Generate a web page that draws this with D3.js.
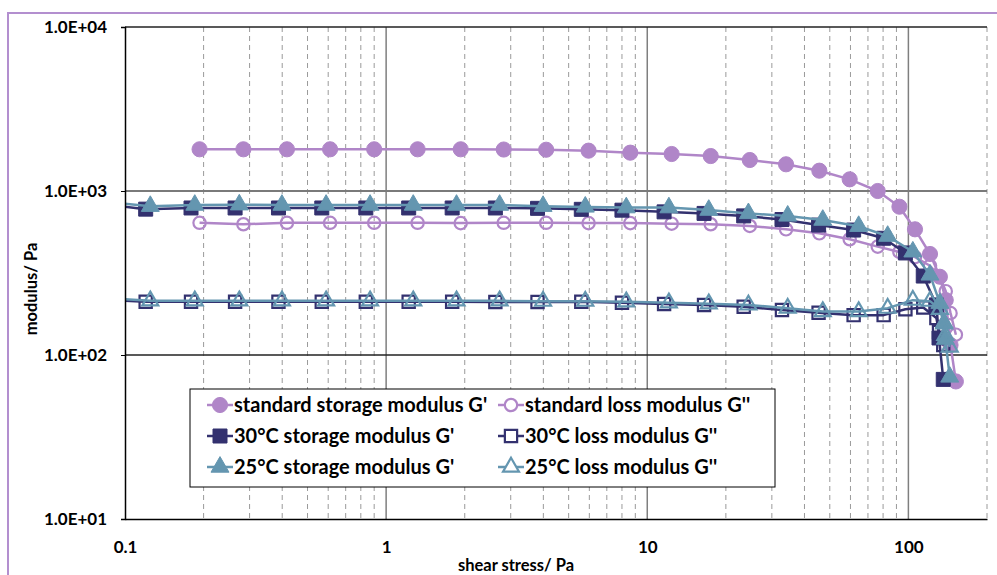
<!DOCTYPE html>
<html>
<head>
<meta charset="utf-8">
<script src="https://cdn.jsdelivr.net/npm/d3@7/dist/d3.min.js"></script>
<style>
  html, body { margin: 0; padding: 0; background: #fff; }
  svg { display: block; }
  text { font-family: Lato, "Open Sans", sans-serif; font-weight: 700; fill: #000; }
</style>
</head>
<body>
<svg id="chart" width="997" height="575"></svg>
<script>
// Standard sample
const stdStress = [0.193, 0.284, 0.417, 0.61, 0.90, 1.32, 1.93, 2.82, 4.10, 5.96, 8.61, 12.4, 17.5, 24.7, 34.0, 45.6, 59.6, 76.3, 92.4, 106, 121, 132, 139, 145, 152];
const stdStorage = [1796, 1796, 1796, 1796, 1796, 1796, 1796, 1790, 1785, 1762, 1713, 1681, 1634, 1545, 1455, 1330, 1178, 1000, 802, 584, 413, 300, 216, 115, 69];
const stdLoss = [640, 627, 640, 640, 640, 640, 637, 640, 640, 637, 637, 632, 627, 612, 584, 552, 508, 458, 425, 395, 350, 300, 245, 180, 133];

// 30 °C sample
const t30Stress = [0.082, 0.120, 0.179, 0.264, 0.387, 0.567, 0.836, 1.22, 1.79, 2.62, 3.80, 5.59, 8.00, 11.6, 16.5, 23.4, 32.8, 45.3, 61.7, 80.4, 97.4, 114, 128, 131, 136];
const t30Storage = [830, 775, 788, 788, 788, 788, 788, 788, 788, 788, 784, 773, 764, 746, 730, 705, 670, 620, 578, 515, 419, 303, 202, 127, 71];
const t30Loss = [218, 211, 211, 211, 211, 211, 211, 211, 211, 210.6, 210.6, 211, 208.4, 204.7, 201.8, 197, 188, 181, 175, 175, 190, 195, 168, 138, 115];

// 25 °C sample
const t25Stress = [0.085, 0.125, 0.185, 0.274, 0.399, 0.589, 0.868, 1.27, 1.86, 2.72, 3.99, 5.79, 8.31, 12.1, 17.2, 24.4, 34.5, 47.0, 64.5, 83.3, 104, 121, 132, 137, 138.5, 144];
const t25Storage = [855, 808, 821, 825, 821, 821, 821, 821, 821, 821, 808, 800, 792, 792, 765, 730, 705, 665, 610, 531, 426, 308, 207, 157, 125, 73.5];
const t25Loss = [222, 214, 214, 214, 214, 214, 214, 214, 214, 214, 213, 213, 211, 208, 205, 202, 193, 184, 184, 193, 216, 213, 190, 155, 132, 112];

// Axis ticks
const xTicks = [0.1, 1, 10, 100];
const xTickLabels = ["0.1", "1", "10", "100"];
const yTicks = [10, 100, 1000, 10000];
const yTickLabels = ["1.0E+01", "1.0E+02", "1.0E+03", "1.0E+04"];
const xTitle = "shear stress/ Pa";
const yTitle = "modulus/ Pa";

const purple = "#B086C8", navy = "#33316F", teal = "#6496B0";

const series = [
  { name: "standard storage modulus G'", x: stdStress, y: stdStorage, color: purple, shape: "circle", filled: true },
  { name: "standard loss modulus G''", x: stdStress, y: stdLoss, color: purple, shape: "circle", filled: false },
  { name: "30°C storage modulus G'", x: t30Stress, y: t30Storage, color: navy, shape: "square", filled: true },
  { name: "30°C loss modulus G''", x: t30Stress, y: t30Loss, color: navy, shape: "square", filled: false },
  { name: "25°C storage modulus G'", x: t25Stress, y: t25Storage, color: teal, shape: "triangle", filled: true },
  { name: "25°C loss modulus G''", x: t25Stress, y: t25Loss, color: teal, shape: "triangle", filled: false }
];

const svg = d3.select("#chart");
const plot = { left: 125, right: 987, top: 27, bottom: 519 };

const x = d3.scaleLog().domain([0.1, 200]).range([plot.left, plot.right]);
const y = d3.scaleLog().domain([10, 10000]).range([plot.bottom, plot.top]);

// outer chart frame
svg.append("rect")
  .attr("x", 8).attr("y", 13).attr("width", 1000).attr("height", 600)
  .attr("fill", "none").attr("stroke", "#B38FCF").attr("stroke-width", 2);

// minor vertical gridlines (dashed)
const minorX = [];
[0.1, 1, 10, 100].forEach(d => { for (let k = 2; k <= 9; k++) { const v = d * k; if (v <= 200) minorX.push(v); } });
svg.append("g").selectAll("line").data(minorX).join("line")
  .attr("x1", d => x(d)).attr("x2", d => x(d))
  .attr("y1", plot.top).attr("y2", plot.bottom)
  .attr("stroke", "#9a9a9a").attr("stroke-width", 1).attr("stroke-dasharray", "5,4");

// major vertical gridlines
svg.append("g").selectAll("line").data([1, 10, 100]).join("line")
  .attr("x1", d => x(d)).attr("x2", d => x(d))
  .attr("y1", plot.top).attr("y2", plot.bottom)
  .attr("stroke", "#7f7f7f").attr("stroke-width", 1.5);

// horizontal gridlines
svg.append("g").selectAll("line").data([100, 1000, 10000]).join("line")
  .attr("x1", plot.left).attr("x2", plot.right)
  .attr("y1", d => y(d)).attr("y2", d => y(d))
  .attr("stroke", d => d === 1000 ? "#7a7a7a" : "#222")
  .attr("stroke-width", d => d === 1000 ? 2 : 1.3);

// series
svg.append("defs").append("clipPath").attr("id", "plotClip")
  .append("rect").attr("x", plot.left).attr("y", plot.top)
  .attr("width", plot.right - plot.left).attr("height", plot.bottom - plot.top);

const symbolOf = s => {
  if (s.shape === "circle") return d3.symbol(d3.symbolCircle, s.filled ? 180 : 120);
  if (s.shape === "square") return d3.symbol(d3.symbolSquare, s.filled ? 196 : 150);
  return d3.symbol(d3.symbolTriangle, s.filled ? 140 : 110);
};

const line = d3.line().x(d => x(d[0])).y(d => y(d[1]));
const plotG = svg.append("g").attr("clip-path", "url(#plotClip)");

series.forEach(s => {
  const pts = s.x.map((v, i) => [v, s.y[i]]);
  const g = plotG.append("g");
  g.append("path").datum(pts)
    .attr("d", line).attr("fill", "none")
    .attr("stroke", s.color).attr("stroke-width", 2.5).attr("stroke-linejoin", "round");
  g.selectAll("path.m").data(pts).join("path").attr("class", "m")
    .attr("transform", d => `translate(${x(d[0])},${y(d[1])})`)
    .attr("d", symbolOf(s)())
    .attr("fill", s.filled ? s.color : "none")
    .attr("stroke", s.color).attr("stroke-width", s.filled ? 1 : 2.2);
});

// axes
const yAxis = d3.axisLeft(y).tickValues(yTicks)
  .tickFormat((d, i) => yTickLabels[i]).tickSize(4).tickPadding(14);
const yg = svg.append("g").attr("transform", `translate(${plot.left},0)`).call(yAxis);
yg.select(".domain").attr("stroke", "#000").attr("stroke-width", 1.5);
yg.selectAll(".tick line").attr("stroke", "#000");
yg.selectAll("text").attr("font-size", 17).attr("font-family", "Lato").attr("font-weight", 700);

const xAxis = d3.axisBottom(x).tickValues(xTicks)
  .tickFormat((d, i) => xTickLabels[i]).tickSize(0).tickPadding(22);
const xg = svg.append("g").attr("transform", `translate(0,${plot.bottom})`).call(xAxis);
xg.select(".domain").attr("stroke", "#000").attr("stroke-width", 1.5);
xg.selectAll("text").attr("font-size", 17).attr("font-family", "Lato").attr("font-weight", 700);

svg.append("text").attr("x", 516).attr("y", 571)
  .attr("text-anchor", "middle").attr("font-size", 16.5).text(xTitle);
svg.append("text").attr("transform", "translate(37,289) rotate(-90)")
  .attr("text-anchor", "middle").attr("font-size", 16.5).text(yTitle);

// legend
const legend = svg.append("g");
legend.append("rect").attr("x", 190).attr("y", 389).attr("width", 585).attr("height", 98)
  .attr("fill", "#fff").attr("stroke", "#000").attr("stroke-width", 1);
const colX = [220, 511], rowY = [405, 436, 467];
series.forEach((s, i) => {
  const cx = colX[i % 2], cy = rowY[Math.floor(i / 2)];
  const item = legend.append("g");
  item.append("line").attr("x1", cx - 13).attr("x2", cx + 13).attr("y1", cy).attr("y2", cy)
    .attr("stroke", s.color).attr("stroke-width", 2.5);
  item.append("path").attr("transform", `translate(${cx},${cy})`)
    .attr("d", symbolOf(s)())
    .attr("fill", s.filled ? s.color : "#fff")
    .attr("stroke", s.color).attr("stroke-width", s.filled ? 1 : 2.2);
  item.append("text").attr("x", cx + 14).attr("y", cy + 7)
    .attr("font-size", 20).text(s.name);
});
</script>
</body>
</html>
